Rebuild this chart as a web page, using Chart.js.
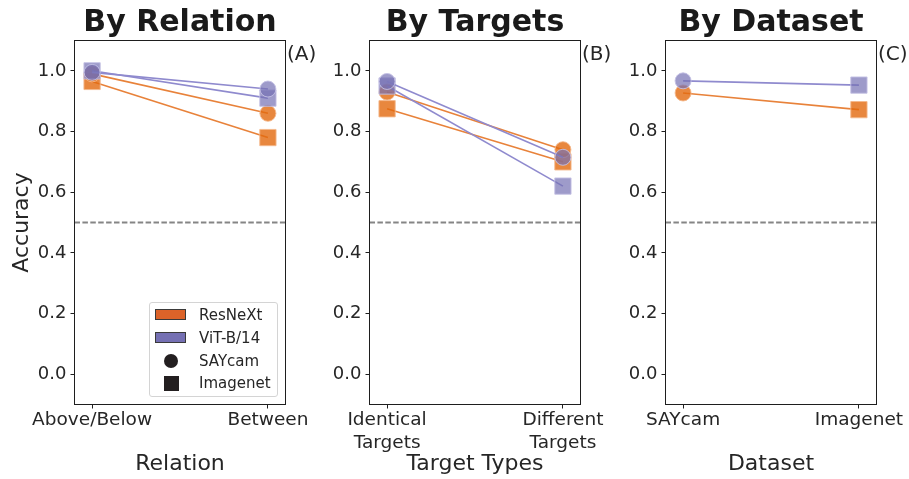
<!DOCTYPE html>
<html>
<head>
<meta charset="utf-8">
<script src="https://cdn.jsdelivr.net/npm/chart.js@4"></script>
<style>
  html, body { margin: 0; padding: 0; background: #fff; }
  #wrap { position: relative; width: 909px; height: 479px; overflow: hidden; font-family: 'DejaVu Sans', sans-serif; }
  canvas { position: absolute; top: 0; }
  #legend { position: absolute; left: 149px; top: 302px; width: 127px; height: 93px;
            border: 1px solid #d4d4d4; border-radius: 3px; background: rgba(255,255,255,0.85); z-index: 2; }
  .row { position: absolute; left: 0; height: 20px; width: 127px; }
  .row span.txt { position: absolute; left: 49px; top: 0; font-size: 15px; line-height: 20px; color: #262626; }
  .patch { position: absolute; left: 5px; top: 4px; width: 29px; height: 9px; border: 1px solid #3a3a3a; }
  .dot { position: absolute; left: 13.5px; top: 3px; width: 14px; height: 14px; border-radius: 50%; background: #231f20; }
  .sq { position: absolute; left: 13.5px; top: 2.5px; width: 15px; height: 15px; background: #231f20; }
</style>
</head>
<body>
<div id="wrap">
  <canvas id="panelA" width="330" height="479" style="left:0px;width:330px;height:479px"></canvas>
  <canvas id="panelB" width="290" height="479" style="left:330px;width:290px;height:479px"></canvas>
  <canvas id="panelC" width="289" height="479" style="left:620px;width:289px;height:479px"></canvas>
  <div id="legend">
    <div class="row" style="top:2px"><div class="patch" style="background:#dc6329"></div><span class="txt">ResNeXt</span></div>
    <div class="row" style="top:25px"><div class="patch" style="background:#7570b3"></div><span class="txt">ViT-B/14</span></div>
    <div class="row" style="top:48px"><div class="dot"></div><span class="txt">SAYcam</span></div>
    <div class="row" style="top:70px"><div class="sq"></div><span class="txt">Imagenet</span></div>
  </div>
</div>
<script>
// Categories on each panel's x axis
const relationLabels = ['Above/Below', 'Between'];
const targetLabels = [['Identical', 'Targets'], ['Different', 'Targets']];
const datasetLabels = ['SAYcam', 'Imagenet'];

// Y-axis ticks and chance level
const yTicks = [0.0, 0.2, 0.4, 0.6, 0.8, 1.0];
const chanceLevel = 0.5;

// Accuracy by relation
const relResNeXtSAYcam = [0.99, 0.86];
const relResNeXtImagenet = [0.965, 0.78];
const relViTSAYcam = [0.995, 0.94];
const relViTImagenet = [1.0, 0.91];

// Accuracy by target type
const tgtResNeXtSAYcam = [0.93, 0.74];
const tgtResNeXtImagenet = [0.875, 0.70];
const tgtViTSAYcam = [0.965, 0.715];
const tgtViTImagenet = [0.95, 0.62];

// Accuracy by training dataset
const dsResNeXt = [0.927, 0.872];
const dsViT = [0.967, 0.953];

const FONT = "'DejaVu Sans', sans-serif";
const TEXT = '#262626';

const orange = {
  line: '#e8823a',
  fill: 'rgba(226,105,14,0.8)',
  edge: 'rgba(244,184,140,0.9)'
};
const purple = {
  line: '#8f8ace',
  fill: 'rgba(117,112,179,0.7)',
  edge: 'rgba(196,193,228,0.9)'
};

const toPoints = vals => vals.map((v, i) => ({ x: i, y: v }));

function series(vals, col, style) {
  const isRect = s => s === 'rect';
  return {
    data: toPoints(vals),
    borderColor: col.line,
    borderWidth: 1.6,
    backgroundColor: col.fill,
    pointStyle: style,
    pointRadius: Array.isArray(style) ? style.map(s => isRect(s) ? 11.5 : 8) : (isRect(style) ? 11.5 : 8),
    pointBackgroundColor: col.fill,
    pointBorderColor: col.edge,
    pointBorderWidth: 1,
    pointHoverRadius: 8,
    tension: 0,
    fill: false
  };
}

function chanceLine() {
  return {
    data: [{ x: -0.1, y: chanceLevel }, { x: 1.1, y: chanceLevel }],
    borderColor: '#858585',
    borderWidth: 2,
    borderDash: [5.5, 2.4],
    pointRadius: 0,
    fill: false
  };
}

// Full box around the plotting area plus the panel tag "(A)" etc.
const framePlugin = {
  id: 'frameAndTag',
  afterDraw(chart, args, opts) {
    const { ctx, chartArea: a } = chart;
    ctx.save();
    ctx.strokeStyle = '#1e1e1e';
    ctx.lineWidth = 1;
    ctx.strokeRect(a.left, a.top, a.right - a.left, a.bottom - a.top);
    if (opts.text) {
      ctx.fillStyle = TEXT;
      ctx.font = '20px ' + FONT;
      ctx.textAlign = 'left';
      ctx.textBaseline = 'alphabetic';
      ctx.fillText(opts.text, a.right + 1.5, 60);
    }
    ctx.restore();
  }
};

function makePanel(id, title, tag, cats, xTitle, yTitle, yWidth, padRight, datasets) {
  return new Chart(document.getElementById(id), {
    type: 'line',
    data: { datasets },
    plugins: [framePlugin],
    options: {
      responsive: false,
      maintainAspectRatio: false,
      animation: false,
      events: [],
      layout: { padding: { left: 0, right: padRight, top: 0, bottom: 0 } },
      plugins: {
        legend: { display: false },
        tooltip: { enabled: false },
        title: {
          display: true,
          text: title,
          fullSize: false,
          color: '#1a1a1a',
          font: { family: FONT, size: 30, weight: 'bold', lineHeight: 1.1 },
          padding: { top: 6.4, bottom: 1.1 }
        },
        frameAndTag: { text: tag }
      },
      scales: {
        x: {
          type: 'linear',
          min: -0.1,
          max: 1.1,
          afterBuildTicks: s => { s.ticks = cats.map((c, i) => ({ value: i })); },
          afterFit: s => { s.height = 74.5; },
          grid: { display: true, drawOnChartArea: false, drawTicks: true, tickLength: 4, color: '#1e1e1e', lineWidth: 1 },
          border: { display: false },
          ticks: {
            autoSkip: false,
            maxRotation: 0,
            padding: 1,
            color: TEXT,
            font: { family: FONT, size: 18.5, lineHeight: 1.2 },
            callback: v => cats[v]
          },
          title: {
            display: true,
            text: xTitle,
            color: TEXT,
            font: { family: FONT, size: 22, lineHeight: 1.2 },
            padding: { top: 0, bottom: 2 }
          }
        },
        y: {
          type: 'linear',
          min: -0.1,
          max: 1.1,
          afterBuildTicks: s => { s.ticks = yTicks.map(v => ({ value: v })); },
          afterFit: s => { s.width = yWidth; },
          grid: { display: true, drawOnChartArea: false, drawTicks: true, tickLength: 4, color: '#1e1e1e', lineWidth: 1 },
          border: { display: false },
          ticks: {
            padding: 4,
            color: TEXT,
            font: { family: FONT, size: 18 },
            callback: v => Number(v).toFixed(1)
          },
          title: {
            display: !!yTitle,
            text: yTitle || '',
            color: TEXT,
            font: { family: FONT, size: 22, lineHeight: 1.2 },
            padding: { top: 9, bottom: 0 }
          }
        }
      }
    }
  });
}

makePanel('panelA', 'By Relation', '(A)', relationLabels, 'Relation', 'Accuracy', 74.5, 44.5, [
  series(relViTSAYcam, purple, 'circle'),
  series(relViTImagenet, purple, 'rect'),
  series(relResNeXtSAYcam, orange, 'circle'),
  series(relResNeXtImagenet, orange, 'rect'),
  chanceLine()
]);

makePanel('panelB', 'By Targets', '(B)', targetLabels, 'Target Types', null, 39.5, 39.5, [
  series(tgtViTSAYcam, purple, 'circle'),
  series(tgtViTImagenet, purple, 'rect'),
  series(tgtResNeXtSAYcam, orange, 'circle'),
  series(tgtResNeXtImagenet, orange, 'rect'),
  chanceLine()
]);

makePanel('panelC', 'By Dataset', '(C)', datasetLabels, 'Dataset', null, 45.5, 32.5, [
  series(dsViT, purple, ['circle', 'rect']),
  series(dsResNeXt, orange, ['circle', 'rect']),
  chanceLine()
]);
</script>
</body>
</html>
